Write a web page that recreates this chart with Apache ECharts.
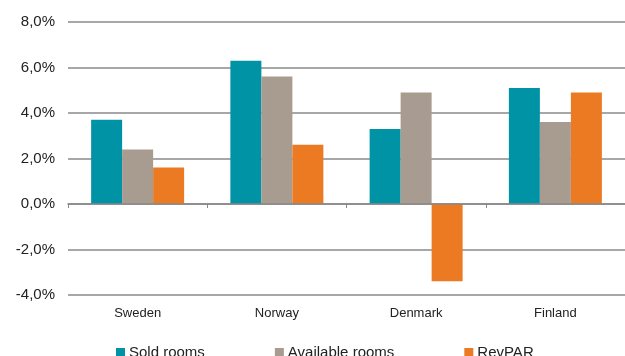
<!DOCTYPE html>
<html>
<head>
<meta charset="utf-8">
<script src="https://cdn.jsdelivr.net/npm/echarts@6/dist/echarts.min.js"></script>
<style>
html, body { margin: 0; padding: 0; background: #fff; }
#main { width: 625px; height: 356px; }
</style>
</head>
<body>
<div id="main"></div>
<script>
var countries = ['Sweden', 'Norway', 'Denmark', 'Finland'];
var soldRooms = [3.7, 6.3, 3.3, 5.1];
var availableRooms = [2.4, 5.6, 4.9, 3.6];
var revPar = [1.6, 2.6, -3.4, 4.9];
var yTicks = [-4, -2, 0, 2, 4, 6, 8];

var dom = document.getElementById('main');
var myChart = echarts.init(dom);

function fmt(v) {
    return v.toFixed(1).replace('.', ',') + '%';
}

var option = {
    animation: false,
    textStyle: { fontFamily: 'Liberation Sans, Arial, sans-serif' },
    grid: { left: 68, right: 0, top: 22, bottom: 61 },
    legend: {
        left: 111,
        top: 340,
        itemWidth: 9,
        itemHeight: 9,
        itemGap: 70,
        icon: 'rect',
        textStyle: { fontSize: 15, color: '#222', padding: [0, 0, 0, -1] },
        data: ['Sold rooms', 'Available rooms', 'RevPAR']
    },
    xAxis: [{
        type: 'category',
        data: countries,
        axisLine: { onZero: true, lineStyle: { color: '#888', width: 1.5 } },
        axisTick: { show: true, length: 4, lineStyle: { color: '#888' } },
        axisLabel: { show: false },
        z: 5
    }, {
        type: 'category',
        data: countries,
        position: 'bottom',
        axisLine: { show: false, onZero: false },
        axisTick: { show: false },
        axisLabel: { fontSize: 13, color: '#222', margin: 12 }
    }],
    yAxis: {
        type: 'value',
        min: yTicks[0],
        max: yTicks[yTicks.length - 1],
        interval: 2,
        axisLine: { show: false },
        axisTick: { show: false },
        axisLabel: {
            fontSize: 15,
            color: '#222',
            margin: 13,
            formatter: fmt
        },
        splitLine: { lineStyle: { color: '#8a8a8a', width: 1.5 } }
    },
    series: [{
        name: 'Sold rooms',
        type: 'bar',
        data: soldRooms,
        barWidth: 31,
        barGap: '0%',
        itemStyle: { color: '#0093A6' }
    }, {
        name: 'Available rooms',
        type: 'bar',
        data: availableRooms,
        barWidth: 31,
        barGap: '0%',
        itemStyle: { color: '#A89B90' }
    }, {
        name: 'RevPAR',
        type: 'bar',
        data: revPar,
        barWidth: 31,
        barGap: '0%',
        itemStyle: { color: '#EC7A22' }
    }]
};

myChart.setOption(option, true);
</script>
</body>
</html>
